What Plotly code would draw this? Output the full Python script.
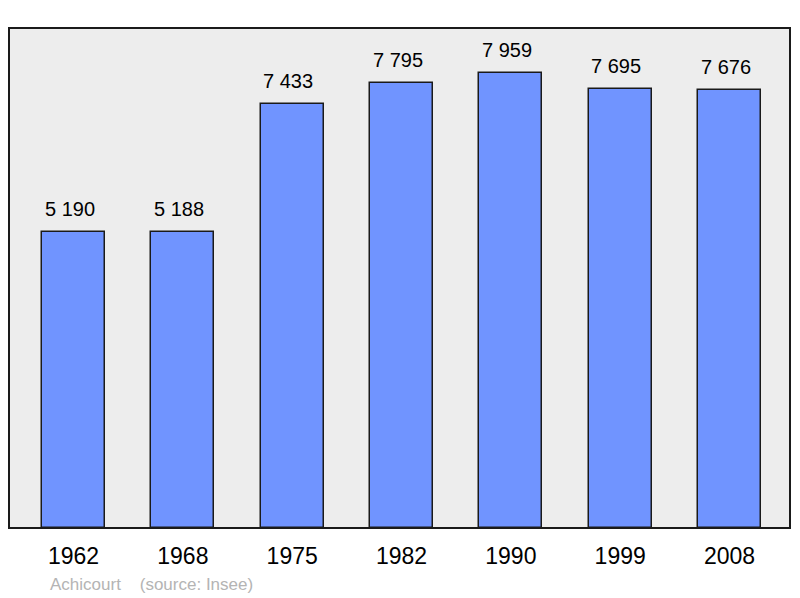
import plotly.graph_objects as go

years = ["1962", "1968", "1975", "1982", "1990", "1999", "2008"]
population = [5190, 5188, 7433, 7795, 7959, 7695, 7676]
labels = ["5 190", "5 188", "7 433", "7 795", "7 959", "7 695", "7 676"]

xs = list(range(len(years)))
FONT = "Liberation Sans, Arial, sans-serif"

fig = go.Figure()
fig.add_trace(go.Bar(
    x=xs, y=population, width=0.576,
    marker=dict(color="#7094FF", line=dict(color="#1a1a1a", width=1.5)),
    hoverinfo="skip",
))

for x, y, t in zip(xs, population, labels):
    fig.add_annotation(x=x, y=y, text=t, showarrow=False, yanchor="bottom",
                       yshift=10, xshift=-4,
                       font=dict(size=20, color="#000000", family=FONT))

fig.add_annotation(xref="paper", yref="paper", x=(48 - 9) / 781, y=-56 / 500,
                   xanchor="left", yanchor="middle", showarrow=False,
                   text="Achicourt&nbsp;&nbsp;&nbsp;&nbsp;(source: Insee)",
                   font=dict(size=17, color="#b4b4b4", family=FONT))

fig.add_shape(type="rect", xref="paper", yref="paper", x0=0, y0=0, x1=1, y1=1,
              line=dict(color="#1a1a1a", width=2), layer="above")

# The page body has an 8px margin, so the figure is sized to fit the window.
fig.update_layout(
    width=792, height=590,
    margin=dict(l=1, r=10, t=20, b=70),
    paper_bgcolor="#ffffff", plot_bgcolor="#ededed",
    showlegend=False,
    bargap=0,
    xaxis=dict(range=[-0.59, 6.553], tickvals=xs, ticktext=years,
               showgrid=False, zeroline=False, showline=False,
               ticks="outside", ticklen=7, tickcolor="rgba(0,0,0,0)",
               tickfont=dict(size=23, color="#000000", family=FONT),
               fixedrange=True),
    yaxis=dict(range=[0, 8755], showgrid=False, zeroline=False, showline=False,
               showticklabels=False, fixedrange=True),
)

fig.write_html("out.html", config={"displayModeBar": False})
